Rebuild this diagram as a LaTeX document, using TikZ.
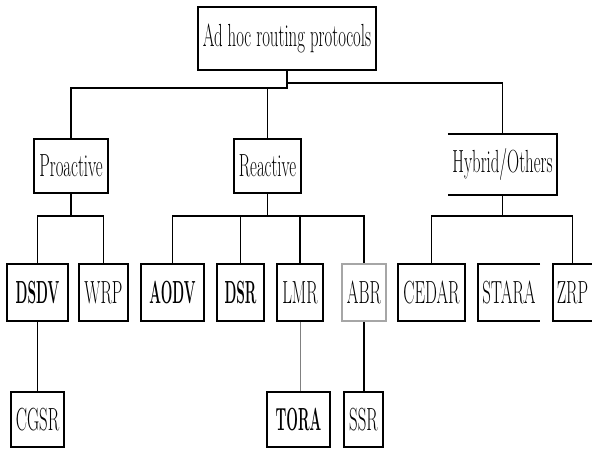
\documentclass[tikz,border=0pt]{standalone}
\usepackage{fontspec}
\usepackage{graphicx}
\newcommand{\mylbl}[1]{\scalebox{0.525}[1]{#1}}
\newcommand{\mybold}[1]{\scalebox{0.43}[1]{\bfseries #1}}
\begin{document}
\begin{tikzpicture}[x=1pt,y=-1pt,
  box/.style={draw, line width=1.7pt, inner sep=0pt, font=\fontsize{32}{34}\selectfont},
  openbox/.style={inner sep=0pt, font=\fontsize{32}{34}\selectfont},
  edge/.style={line width=1.5pt},
  side/.style={line width=1.7pt}]
\useasboundingbox (0,0) rectangle (592,448);
% top levels
\node[box, minimum width=178pt, minimum height=63pt] (root) at (287,38.5) {\mylbl{Ad hoc routing protocols}};
\node[box, minimum width=74pt, minimum height=54pt] (pro) at (71,166) {\mylbl{Proactive}};
\node[box, minimum width=67pt, minimum height=54pt] (rea) at (267.5,166) {\mylbl{Reactive}};
\node[openbox, minimum width=109pt, minimum height=61pt] (hyb) at (502.5,164.5) {\mylbl{Hybrid/Others}};
\draw[side] (hyb.north west) -- (hyb.north east) -- (hyb.south east) -- (hyb.south west);
% leaves
\node[box, minimum width=61pt, minimum height=57pt] (dsdv) at (37.5,292.5) {\mybold{DSDV}};
\node[box, minimum width=49pt, minimum height=57pt] (wrp) at (103.5,292.5) {\mylbl{WRP}};
\node[box, minimum width=63pt, minimum height=57pt] (aodv) at (172.5,292.5) {\mybold{AODV}};
\node[box, minimum width=47pt, minimum height=57pt] (dsr) at (240.5,292.5) {\mybold{DSR}};
\node[box, minimum width=46pt, minimum height=57pt] (lmr) at (300,292.5) {\mylbl{LMR}};
\node[box, draw=gray!70, minimum width=44pt, minimum height=57pt] (abr) at (364,292.5) {\mylbl{ABR}};
\node[box, minimum width=67pt, minimum height=57pt] (cedar) at (431.5,292.5) {\mylbl{CEDAR}};
\node[openbox, minimum width=62pt, minimum height=57pt] (stara) at (509,292.5) {\mylbl{STARA}};
\draw[side] (stara.north east) -- (stara.north west) -- (stara.south west) -- (stara.south east);
\node[openbox, minimum width=39pt, minimum height=57pt] (zrp) at (572.5,292.5) {\mylbl{ZRP}};
\draw[side] (zrp.north east) -- (zrp.north west) -- (zrp.south west) -- (zrp.south east);
\node[box, minimum width=53pt, minimum height=55pt] (cgsr) at (37.5,419.5) {\mylbl{CGSR}};
\node[box, minimum width=63pt, minimum height=55pt] (tora) at (298.5,419.5) {\mybold{TORA}};
\node[box, minimum width=39pt, minimum height=55pt] (ssr) at (363.5,419.5) {\mylbl{SSR}};
% connectors
\coordinate (ja) at (287,88);
\coordinate (jb) at (287,83);
\draw[edge] (root.south) -- (ja) -| (pro.north);
\draw[edge] (ja -| rea.north) -- (rea.north);
\draw[edge] (root.south) -- (jb) -| (hyb.north);
\coordinate (jp) at (71,216);
\draw[edge] (pro.south) -- (jp);
\draw[edge] (dsdv.north) |- (jp) -| (wrp.north);
\coordinate (jr) at (267.5,216);
\draw[edge] (rea.south) -- (jr);
\draw[edge] (aodv.north) |- (jr) -| (abr.north);
\draw[edge] (dsr.north) -- (dsr.north |- jr);
\draw[edge] (lmr.north) -- (lmr.north |- jr);
\coordinate (jh) at (502.5,216);
\draw[edge] (hyb.south) -- (jh);
\draw[edge] (cedar.north) |- (jh) -| (zrp.north);
\draw[edge] (dsdv.south) -- (cgsr.north);
\draw[line width=1pt, gray] (lmr.south) -- (lmr.south |- tora.north);
\draw[edge] (abr.south) -- (abr.south |- ssr.north);
\end{tikzpicture}
\end{document}
